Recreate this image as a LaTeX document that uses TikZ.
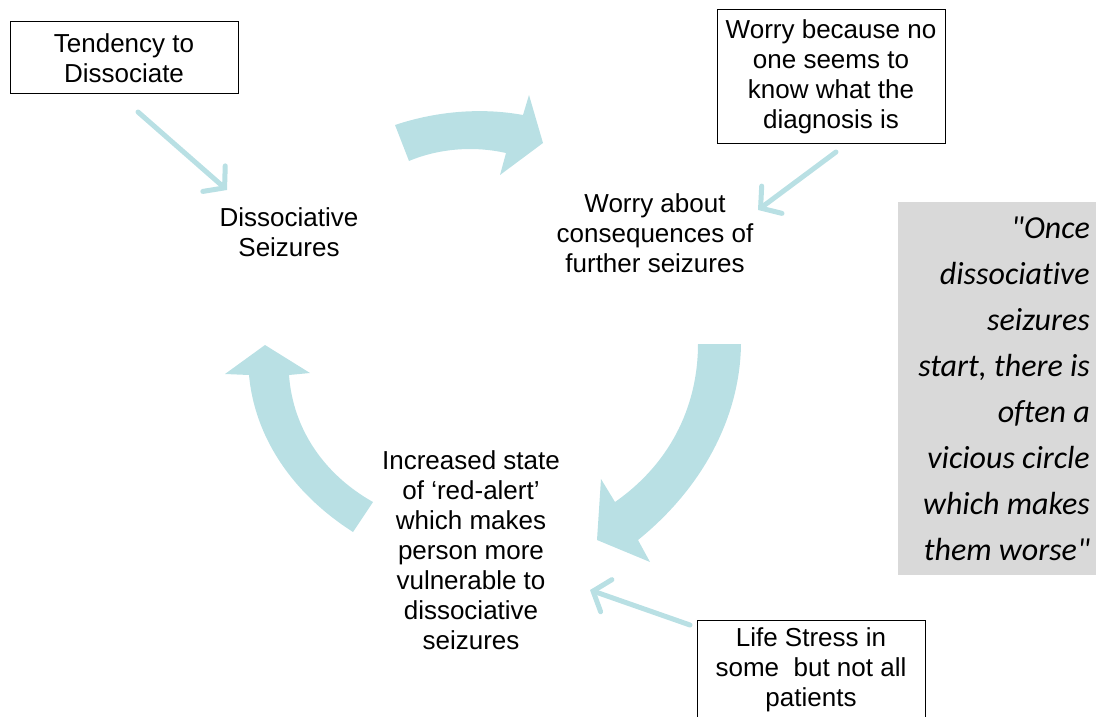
\documentclass[tikz,border=0pt]{standalone}
\usepackage{fontspec}
\setmainfont{Liberation Sans}
\newfontfamily\quotefont[Ligatures=NoCommon]{Carlito}
\usetikzlibrary{arrows.meta}
\definecolor{arrowcol}{RGB}{185,224,228}
\definecolor{quotegray}{RGB}{217,217,217}
\begin{document}
\begin{tikzpicture}[x=1pt,y=-1pt,
  lbl/.style={align=center, font=\fontsize{26}{30}\selectfont, inner sep=0pt},
  box/.style={lbl, draw, line width=1pt, minimum width=228pt},
  thinarrow/.style={draw=arrowcol, line width=5pt, line cap=round, -{Straight Barb[length=14pt,width=34pt,line cap=round]}},
  bigarrow/.style={fill=arrowcol, draw=none}]
\useasboundingbox (0,0) rectangle (1096,717);

% boxes
\node[box, minimum height=72pt] (tend) at (124,58) {Tendency to\\Dissociate};
\node[box, minimum height=133pt] (worrybox) at (831,76.5) {Worry because no\\one seems to\\know what the\\diagnosis is};
\node[box, minimum height=100pt] (life) at (811,670) {Life Stress in\\some \ but not all\\patients};

% cycle labels
\node[lbl] (seiz) at (289,232) {Dissociative\\Seizures};
\node[lbl] (worry) at (655,233) {Worry about\\consequences of\\further seizures};
\node[lbl] (alert) at (471,550) {Increased state\\of `red-alert'\\which makes\\person more\\vulnerable to\\dissociative\\seizures};

% quote
\fill[quotegray] (898,202) rectangle (1097,575);
\node[anchor=east, align=flush right, inner sep=0pt, text width=190pt,
  font=\quotefont\itshape\fontsize{32}{46}\selectfont] (quote) at (1090,389)
  {"Once\\dissociative\\seizures\\start, there is\\often a\\vicious circle\\which makes\\them worse"};

% thin arrows
\coordinate (t1) at (138,112);
\coordinate (t1e) at (227,190);
\coordinate (w1) at (836,152);
\coordinate (w1e) at (758,210);
\coordinate (l1) at (690,625);
\coordinate (l1e) at (590,590);
\draw[thinarrow] (t1) -- (t1e);
\draw[thinarrow] (w1) -- (w1e);
\draw[thinarrow] (l1) -- (l1e);

% big curved arrows
\fill[bigarrow] (395,125) .. controls (440,110) and (485,108) .. (523,115)
  -- (529,95) -- (543,143) -- (500,175) -- (506,153)
  .. controls (475,146) and (440,148) .. (409,161) -- cycle;
\fill[bigarrow] (698,344) -- (741,344) .. controls (740,420) and (700,490) .. (638,540)
  -- (650,562) -- (597,540) -- (601,479) -- (615,502)
  .. controls (675,460) and (698,400) .. (698,344) -- cycle;
\fill[bigarrow] (265,345) -- (310,373) -- (289,375)
  .. controls (293,430) and (325,475) .. (373,502) -- (353,532)
  .. controls (295,495) and (255,440) .. (249,375) -- (225,374) -- cycle;
\end{tikzpicture}
\end{document}
